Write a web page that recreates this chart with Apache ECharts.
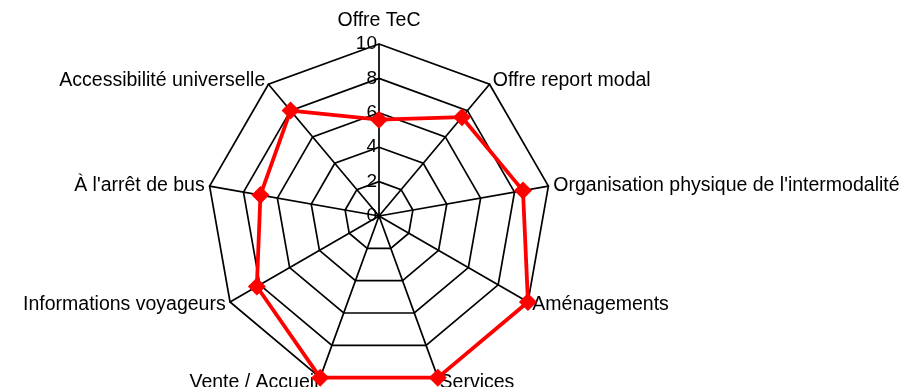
<!DOCTYPE html>
<html>
<head>
<meta charset="utf-8">
<script src="https://cdn.jsdelivr.net/npm/echarts@6/dist/echarts.min.js"></script>
<style>
html,body{margin:0;padding:0;background:#fff;}
#chart{width:909px;height:387px;}
</style>
</head>
<body>
<div id="chart"></div>
<script>
// Categories in clockwise order starting at the top
const categories = [
  "Offre TeC",
  "Offre report modal",
  "Organisation physique de l'intermodalité",
  "Aménagements",
  "Services",
  "Vente / Accueil",
  "Informations voyageurs",
  "À l'arrêt de bus",
  "Accessibilité universelle"
];
const values = [5.6, 7.5, 8.5, 10, 10, 10, 8.2, 7, 8];
const tickLabels = ["0", "2", "4", "6", "8", "10"];
const axisMin = 0;
const axisMax = 10;

// ECharts radar runs counter-clockwise: reorder keeping the first at the top
const order = [0].concat(categories.map((_, i) => i).slice(1).reverse());
const indicators = order.map((i, k) => {
  const ind = { name: categories[i], min: axisMin, max: axisMax };
  if (k === 0) ind.axisLabel = { show: true };
  return ind;
});
const seriesData = order.map(i => values[i]);

const font = 'Liberation Sans, Arial, sans-serif';
const chart = echarts.init(document.getElementById('chart'), null, { renderer: 'canvas' });
chart.setOption({
  animation: false,
  backgroundColor: '#ffffff',
  radar: {
    center: [379, 216],
    radius: 172,
    startAngle: 90,
    shape: 'polygon',
    splitNumber: tickLabels.length - 1,
    nameGap: 5,
    axisName: {
      color: '#000',
      fontFamily: font,
      fontSize: 19.5,
      formatter: function (name) {
        return name === categories[0] ? '{top|' + name + '}' : name;
      },
      rich: {
        top: { color: '#000', fontFamily: font, fontSize: 19.5, padding: [0, 0, 8, 0] }
      }
    },
    indicator: indicators,
    axisLine: { show: true, lineStyle: { color: '#000', width: 1.7 } },
    splitLine: { show: true, lineStyle: { color: '#000', width: 1.7 } },
    splitArea: { show: false },
    axisTick: { show: false },
    axisLabel: {
      show: false,
      color: '#000',
      fontFamily: font,
      fontSize: 19,
      margin: 2,
      formatter: function (v) { return tickLabels.indexOf(String(v)) >= 0 ? String(v) : ''; }
    }
  },
  series: [{
    type: 'radar',
    symbol: 'diamond',
    symbolSize: 18,
    lineStyle: { color: '#ff0000', width: 3.8 },
    itemStyle: { color: '#ff0000' },
    data: [{ value: seriesData }]
  }]
});
</script>
</body>
</html>
